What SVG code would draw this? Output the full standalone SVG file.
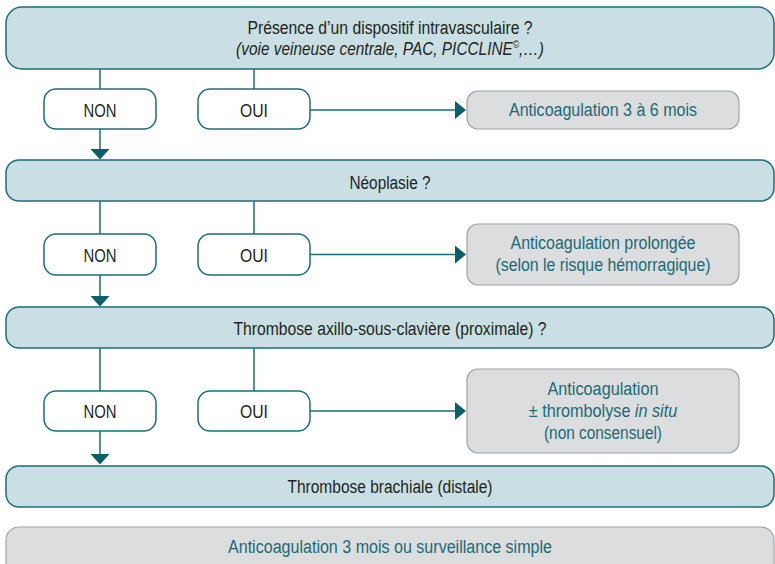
<svg xmlns="http://www.w3.org/2000/svg" width="775" height="564" viewBox="0 0 775 564">
<style>
.q{fill:#c9dfe3;stroke:#1d6e78;stroke-width:1.5}
.yn{fill:#ffffff;stroke:#1d6e78;stroke-width:1.5}
.r{fill:#dcdddf;stroke:#a3a4a6;stroke-width:1.2}
text{font-family:"Liberation Sans",Arial,sans-serif;font-size:18px;text-anchor:middle}
.d{fill:#231f20}
.t{fill:#1a6a75}
.ln{stroke:#1d6e78;stroke-width:1.5;fill:none}
.ah{fill:#0e5d67}
</style>
<rect width="775" height="564" fill="#ffffff"/>
<g id="connectors">
<path class="ln" d="M100 69V89M254 69V89M100 129V150M310 110H456"/>
<path class="ah" d="M90.5 149H109.5L100 159.5Z"/>
<path class="ah" d="M455 101V119L466 110Z"/>
<path class="ln" d="M100 201V234M254 201V234M100 275V297M310 254.5H456"/>
<path class="ah" d="M90.5 296H109.5L100 306.5Z"/>
<path class="ah" d="M455 245.5V263.5L466 254.5Z"/>
<path class="ln" d="M100 348V391M254 348V391M100 431V455M310 411H456"/>
<path class="ah" d="M90.5 454H109.5L100 464.5Z"/>
<path class="ah" d="M455 402V420L466 411Z"/>
</g>
<g id="q1"><rect class="q" x="6" y="7" width="768" height="62" rx="16"/>
<text class="d" x="390" y="34" textLength="285" lengthAdjust="spacingAndGlyphs">Présence d’un dispositif intravasculaire ?</text>
<text class="d" transform="translate(390 55) scale(0.855 1)" x="0" y="0" font-style="italic">(voie veineuse centrale, PAC, PICCLINE<tspan font-size="10" dy="-7">©</tspan><tspan dy="7">,…)</tspan></text></g>
<g id="non1"><rect class="yn" x="44" y="89" width="112" height="40" rx="12"/><text class="d" x="100" y="116.5" textLength="33" lengthAdjust="spacingAndGlyphs">NON</text></g>
<g id="oui1"><rect class="yn" x="198" y="89" width="112" height="40" rx="12"/><text class="d" x="254" y="116.5" textLength="28" lengthAdjust="spacingAndGlyphs">OUI</text></g>
<g id="r1"><rect class="r" x="467" y="91" width="272" height="38" rx="11"/><text class="t" x="603" y="116" textLength="188" lengthAdjust="spacingAndGlyphs">Anticoagulation 3 à 6 mois</text></g>
<g id="q2"><rect class="q" x="6" y="160" width="768" height="41" rx="13"/><text class="d" x="390" y="188.5" textLength="81" lengthAdjust="spacingAndGlyphs">Néoplasie ?</text></g>
<g id="non2"><rect class="yn" x="44" y="234" width="112" height="41" rx="12"/><text class="d" x="100" y="261.5" textLength="33" lengthAdjust="spacingAndGlyphs">NON</text></g>
<g id="oui2"><rect class="yn" x="198" y="234" width="112" height="41" rx="12"/><text class="d" x="254" y="261.5" textLength="28" lengthAdjust="spacingAndGlyphs">OUI</text></g>
<g id="r2"><rect class="r" x="467" y="224" width="272" height="61" rx="11"/>
<text class="t" x="603" y="248.5" textLength="185" lengthAdjust="spacingAndGlyphs">Anticoagulation prolongée</text>
<text class="t" x="603" y="270.5" textLength="215" lengthAdjust="spacingAndGlyphs">(selon le risque hémorragique)</text></g>
<g id="q3"><rect class="q" x="6" y="307" width="768" height="41" rx="13"/><text class="d" x="390" y="335" textLength="313" lengthAdjust="spacingAndGlyphs">Thrombose axillo-sous-clavière (proximale) ?</text></g>
<g id="non3"><rect class="yn" x="44" y="391" width="112" height="40" rx="12"/><text class="d" x="100" y="418" textLength="33" lengthAdjust="spacingAndGlyphs">NON</text></g>
<g id="oui3"><rect class="yn" x="198" y="391" width="112" height="40" rx="12"/><text class="d" x="254" y="418" textLength="28" lengthAdjust="spacingAndGlyphs">OUI</text></g>
<g id="r3"><rect class="r" x="467" y="369" width="272" height="84" rx="11"/>
<text class="t" x="603" y="395" textLength="111" lengthAdjust="spacingAndGlyphs">Anticoagulation</text>
<text class="t" transform="translate(603 417) scale(0.9 1)" x="0" y="0">± thrombolyse <tspan font-style="italic">in situ</tspan></text>
<text class="t" x="603" y="438.5" textLength="118" lengthAdjust="spacingAndGlyphs">(non consensuel)</text></g>
<g id="q4"><rect class="q" x="6" y="466" width="768" height="41" rx="13"/><text class="d" x="390" y="493" textLength="205" lengthAdjust="spacingAndGlyphs">Thrombose brachiale (distale)</text></g>
<g id="r4"><rect class="r" x="6" y="527" width="768" height="50" rx="13"/><text class="t" x="390" y="553" textLength="324" lengthAdjust="spacingAndGlyphs">Anticoagulation 3 mois ou surveillance simple</text></g>
</svg>
